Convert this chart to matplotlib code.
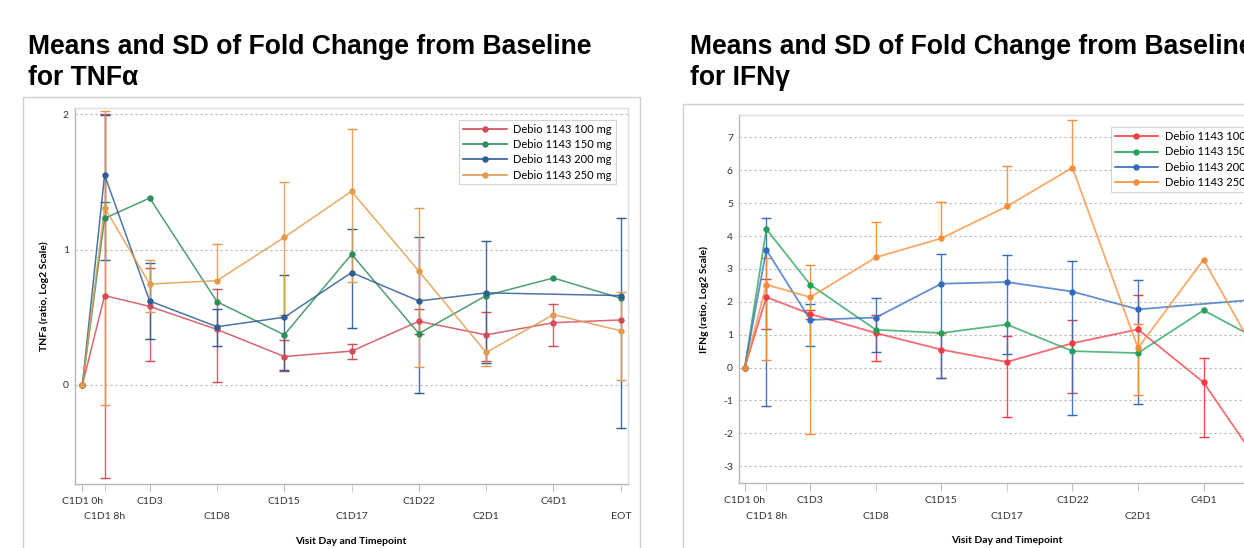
import matplotlib

matplotlib.use("Agg")
import matplotlib.pyplot as plt
from matplotlib.patches import Rectangle

# --- data -------------------------------------------------------------------
visits = ["C1D1 0h", "C1D1 8h", "C1D3", "C1D8", "C1D15", "C1D17",
          "C1D22", "C2D1", "C4D1", "EOT"]
visit_pos = [0, 0.33, 1, 2, 3, 4, 5, 6, 7, 8]
doses = ["Debio 1143 100 mg", "Debio 1143 150 mg",
         "Debio 1143 200 mg", "Debio 1143 250 mg"]

# TNFa: mean, lower / upper SD limits (log2 fold change), None = not shown
tnf_mean_100 = [0, 0.66, 0.58, 0.41, 0.21, 0.25, 0.47, 0.37, 0.46, 0.48]
tnf_lo_100 = [None, -0.69, 0.18, 0.02, 0.10, 0.19, 0.38, 0.18, 0.29, None]
tnf_hi_100 = [None, 2.00, 0.86, 0.71, 0.33, 0.30, 0.56, 0.54, 0.60, None]

tnf_mean_150 = [0, 1.23, 1.38, 0.615, 0.37, 0.965, 0.38, 0.66, 0.79, 0.64]
tnf_lo_150 = [None] * 10
tnf_hi_150 = [None, 1.35, None, None, None, None, None, None, None, None]

tnf_mean_200 = [0, 1.55, 0.62, 0.43, 0.50, 0.83, 0.62, 0.68, None, 0.66]
tnf_lo_200 = [None, 0.92, 0.34, 0.29, 0.11, 0.42, -0.06, 0.16, None, -0.32]
tnf_hi_200 = [None, 1.99, 0.90, 0.56, 0.81, 1.15, 1.09, 1.06, None, 1.23]

tnf_mean_250 = [0, 1.31, 0.745, 0.77, 1.09, 1.43, 0.84, 0.24, 0.52, 0.40]
tnf_lo_250 = [None, -0.15, 0.54, None, 0.52, 0.76, 0.135, 0.14, None, 0.04]
tnf_hi_250 = [None, 2.02, 0.92, 1.04, 1.50, 1.89, 1.31, None, None, 0.69]

# IFNg
ifn_mean_100 = [0, 2.14, 1.63, 1.05, 0.545, 0.17, 0.74, 1.16, -0.45, -3.36]
ifn_lo_100 = [None, 1.18, 1.49, 0.19, -0.33, -1.50, -0.76, None, -2.11, None]
ifn_hi_100 = [None, 2.68, 1.76, 1.60, 1.05, 0.96, 1.45, 2.21, 0.30, None]

ifn_mean_150 = [0, 4.21, 2.52, 1.15, 1.05, 1.31, 0.50, 0.44, 1.74, 0.68]
ifn_lo_150 = [None] * 10
ifn_hi_150 = [None] * 10

ifn_mean_200 = [0, 3.58, 1.45, 1.52, 2.55, 2.60, 2.31, 1.77, None, 2.10]
ifn_lo_200 = [None, -1.16, 0.67, 0.47, -0.33, 0.41, -1.45, -1.10, None, None]
ifn_hi_200 = [None, 4.55, 1.94, 2.11, 3.45, 3.43, 3.25, 2.65, None, None]

ifn_mean_250 = [0, 2.52, 2.14, 3.35, 3.93, 4.90, 6.08, 0.59, 3.28, -0.27]
ifn_lo_250 = [None, 0.22, -2.03, None, None, None, None, -0.82, None, None]
ifn_hi_250 = [None, 3.34, 3.11, 4.43, 5.04, 6.13, 7.52, 1.31, None, None]

tnf_colors = ["#d34b56", "#2e8d5a", "#2d5d94", "#e49a4c"]
ifn_colors = ["#f23b40", "#25a159", "#2f6bc0", "#f98c34"]

FONT = "Lato"
W, H = 1244, 548


def fx(px):
    return px / W


def fy(py):
    return 1 - py / H


def draw_panel(ax, series, colors, ylim, yticks, xlim, ylabel, lw, alpha):
    for (mean, lo, hi), col in zip(series, colors):
        xs = [x for x, m in zip(visit_pos, mean) if m is not None]
        ys = [m for m in mean if m is not None]
        ax.plot(xs, ys, color=col, lw=lw, alpha=alpha, zorder=3)
        ax.plot(xs, ys, ls="none", marker="o", ms=3.6, color=col, zorder=4)
        for x, m, l, h in zip(visit_pos, mean, lo, hi):
            for end in (l, h):
                if end is None or m is None:
                    continue
                ax.plot([x, x], [m, end], color=col, lw=1.0, alpha=0.9, zorder=2)
                ax.plot([x], [end], marker="_", ms=7, mew=1.0, color=col, zorder=2)

    ax.set_xlim(*xlim)
    ax.set_ylim(*ylim)
    ax.set_yticks(yticks)
    ax.set_yticklabels([f"{t:g}" for t in yticks],
                       fontfamily=FONT, fontsize=7.5, color="#333333")
    ax.yaxis.grid(True, ls=(0, (2, 2.5)), color="#b8b8b8", lw=0.8)
    ax.set_axisbelow(True)
    ax.tick_params(axis="y", length=0, pad=4)

    # staggered category labels: even on first row, odd on second row
    ax.set_xticks(visit_pos[0::2])
    ax.set_xticklabels(visits[0::2], fontfamily=FONT, fontsize=7.5, color="#333333")
    ax.set_xticks(visit_pos[1::2], minor=True)
    ax.set_xticklabels(visits[1::2], minor=True, fontfamily=FONT, fontsize=7.5,
                       color="#333333")
    ax.tick_params(axis="x", which="major", length=5.5, color="#c0c0c0", pad=4)
    ax.tick_params(axis="x", which="minor", length=5.5, color="#c0c0c0", pad=15)

    for side in ("left", "bottom"):
        ax.spines[side].set_color("#b8b8b8")
    for side in ("top", "right"):
        ax.spines[side].set_color("#dddddd")
    for sp in ax.spines.values():
        sp.set_linewidth(1.0)

    ax.set_ylabel(ylabel, fontfamily=FONT, fontweight="bold", fontsize=7.5,
                  labelpad=10)
    ax.set_xlabel("Visit Day and Timepoint", fontfamily=FONT, fontweight="bold",
                  fontsize=7.5)
    ax.xaxis.set_label_coords(0.5, -0.14)


fig = plt.figure(figsize=(W / 100, H / 100), dpi=100)

# outer frames of the pasted chart images
fig.patches.append(Rectangle((fx(23), fy(560)), fx(640) - fx(23), fy(97) - fy(560),
                             transform=fig.transFigure, fill=False,
                             ec="#cfcfcf", lw=1.0))
fig.patches.append(Rectangle((fx(683), fy(560)), fx(1300) - fx(683), fy(104) - fy(560),
                             transform=fig.transFigure, fill=False,
                             ec="#cfcfcf", lw=1.0))

ax1 = fig.add_axes([fx(74.5), fy(484), fx(627.5) - fx(74.5), fy(107.7) - fy(484)])
ax2 = fig.add_axes([fx(738.5), fy(483.3), fx(1275) - fx(738.5), fy(115) - fy(483.3)])

tnf = [(tnf_mean_100, tnf_lo_100, tnf_hi_100),
       (tnf_mean_150, tnf_lo_150, tnf_hi_150),
       (tnf_mean_200, tnf_lo_200, tnf_hi_200),
       (tnf_mean_250, tnf_lo_250, tnf_hi_250)]
ifn = [(ifn_mean_100, ifn_lo_100, ifn_hi_100),
       (ifn_mean_150, ifn_lo_150, ifn_hi_150),
       (ifn_mean_200, ifn_lo_200, ifn_hi_200),
       (ifn_mean_250, ifn_lo_250, ifn_hi_250)]

draw_panel(ax1, tnf, tnf_colors, (-0.731, 2.047), [0, 1, 2], (-0.117, 8.10),
           "TNFa (ratio, Log2 Scale)", 1.1, 0.85)
draw_panel(ax2, ifn, ifn_colors, (-3.52, 7.68), list(range(-3, 8)), (-0.095, 8.09),
           "IFNg (ratio, Log2 Scale)", 1.3, 0.75)
ax2.xaxis.set_label_coords(0.5, -0.142)

for ax, cols, anchor in ((ax1, tnf_colors, (fx(459.3), fy(120))),
                         (ax2, ifn_colors, (fx(1110.7), fy(127.3)))):
    handles = [plt.Line2D([], [], color=c, lw=1.2, marker="o", ms=3.6) for c in cols]
    leg = fig.legend(handles, doses, loc="upper left", bbox_to_anchor=anchor,
                     bbox_transform=fig.transFigure, borderaxespad=0,
                     prop={"family": FONT, "size": 8}, handlelength=3.9,
                     handletextpad=0.6, labelspacing=0.38, borderpad=0.35,
                     frameon=True, fancybox=False)
    leg.get_frame().set_edgecolor("#c8c8c8")
    leg.get_frame().set_linewidth(0.8)

# slide titles
title_kw = dict(fontfamily="Liberation Sans", fontweight="bold", fontsize=19.1,
                color="black", va="baseline", ha="left")
fig.text(fx(28), fy(54), "Means and SD of Fold Change from Baseline", **title_kw)
fig.text(fx(28), fy(85), "for TNFα", **title_kw)
fig.text(fx(690), fy(54), "Means and SD of Fold Change from Baseline", **title_kw)
fig.text(fx(690), fy(85), "for IFNγ", **title_kw)

fig.savefig("out.png", dpi=100)
